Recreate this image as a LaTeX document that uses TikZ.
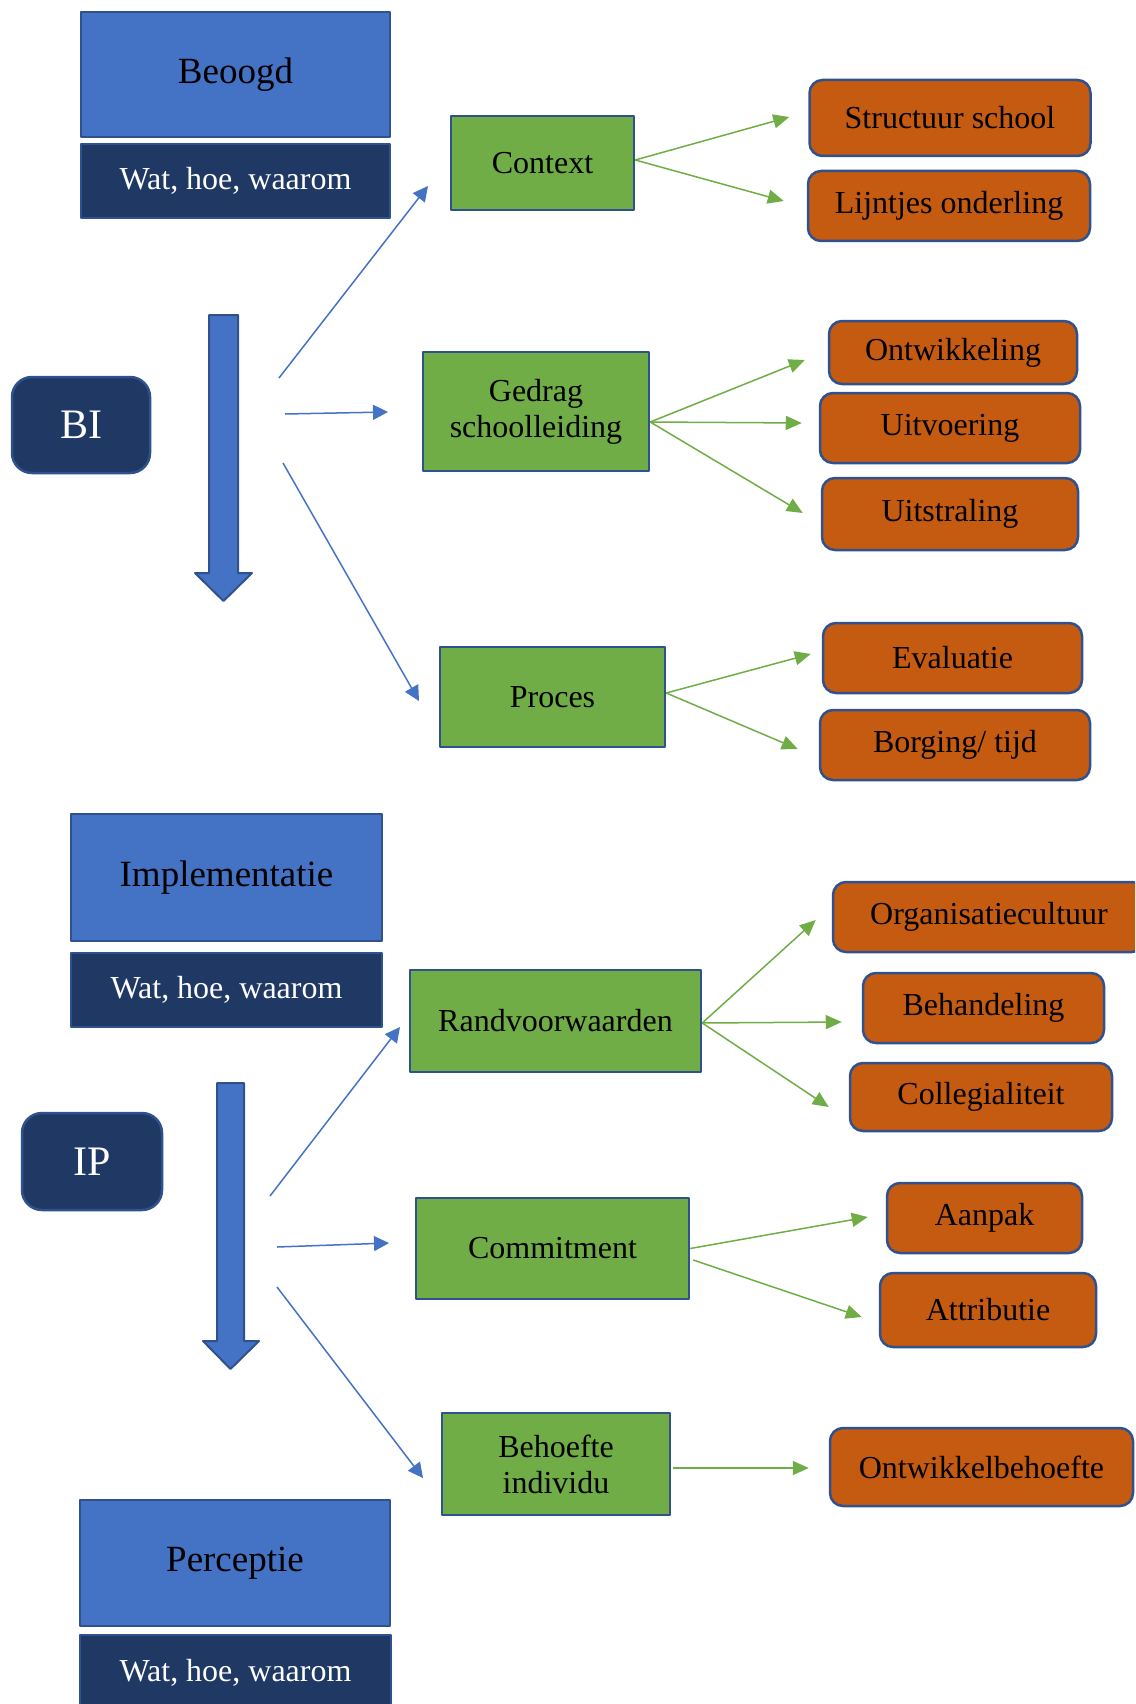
\documentclass[tikz,border=0pt]{standalone}
\usepackage{fontspec}
\setmainfont{Liberation Serif}
\usetikzlibrary{arrows.meta}
\definecolor{accblue}{HTML}{4472C4}
\definecolor{edgeblue}{HTML}{2F528F}
\definecolor{darknavy}{HTML}{203864}
\definecolor{accgreen}{HTML}{70AD47}
\definecolor{accorange}{HTML}{C55A11}
\begin{document}
\begin{tikzpicture}[x=1pt,y=-1pt,line join=round,
  box/.style={draw=edgeblue,line width=2.5pt,inner sep=0pt,align=center,font=\fontsize{32}{36}\selectfont},
  topbox/.style={box,fill=accblue,minimum width=309pt,minimum height=125pt,font=\fontsize{37}{40}\selectfont},
  whybox/.style={box,fill=darknavy,text=white,minimum width=309pt,minimum height=74pt},
  tagbox/.style={box,fill=darknavy,text=white,rounded corners=20pt,font=\fontsize{42}{46}\selectfont},
  aspect/.style={box,fill=accgreen},
  item/.style={box,fill=accorange,rounded corners=13pt},
  blink/.style={draw=accblue,line width=1.5pt,-{Triangle[length=15pt,width=15pt]}},
  glink/.style={draw=accgreen,line width=1.5pt,-{Triangle[length=16pt,width=14pt]}},
  bigarrow/.style={fill=accblue,draw=edgeblue,line width=2pt}]
  \useasboundingbox (0,0) rectangle (1135,1704);
  \clip (0,0) rectangle (1135,1704);

  % upper half: beoogd
  \node[topbox] (beoogd) at (235.5,74.5) {Beoogd};
  \node[whybox] (watA) at (235.5,181) {Wat, hoe, waarom};
  \node[tagbox,minimum width=138pt,minimum height=96pt] (bi) at (81,425) {BI};
  \draw[bigarrow] (209,315) -- (238,315) -- (238,573) -- (252,573) -- (223.5,601) -- (195,573) -- (209,573) -- cycle;

  \node[aspect,minimum width=183pt,minimum height=94pt] (ctx) at (542.5,163) {Context};
  \node[aspect,minimum width=226pt,minimum height=119pt] (ged) at (536,411.5) {Gedrag\\schoolleiding};
  \node[aspect,minimum width=225pt,minimum height=100pt] (proces) at (552.5,697) {Proces};

  \node[item,minimum width=281pt,minimum height=76pt] (structuur) at (950,118) {Structuur school};
  \node[item,minimum width=282pt,minimum height=70pt] (lijntjes) at (949,206) {Lijntjes onderling};
  \node[item,minimum width=248pt,minimum height=63pt] (ontw) at (953,352.5) {Ontwikkeling};
  \node[item,minimum width=260pt,minimum height=70pt] (uitv) at (950,428) {Uitvoering};
  \node[item,minimum width=256pt,minimum height=72pt] (uitstr) at (950,514) {Uitstraling};
  \node[item,minimum width=259pt,minimum height=70pt] (eval) at (952.5,658) {Evaluatie};
  \node[item,minimum width=270pt,minimum height=70pt] (borg) at (955,745) {Borging/ tijd};

  \coordinate (biA) at (279,378);
  \coordinate (biB) at (285,414);
  \coordinate (biC) at (283,463);
  \coordinate (ctxIn) at (428,186);
  \coordinate (gedIn) at (388,412);
  \coordinate (procIn) at (419,701);
  \draw[blink] (biA) -- (ctxIn);
  \draw[blink] (biB) -- (gedIn);
  \draw[blink] (biC) -- (procIn);

  \draw[glink] ([yshift=3pt]ctx.east) -- ([xshift=-19pt,yshift=1pt]structuur.west);
  \draw[glink] ([yshift=3pt]ctx.east) -- ([xshift=-23pt,yshift=5pt]lijntjes.west);
  \draw[glink] ([yshift=-10.5pt]ged.east) -- ([xshift=-23pt,yshift=-7.5pt]ontw.west);
  \draw[glink] ([yshift=-10.5pt]ged.east) -- ([xshift=-17pt,yshift=5pt]uitv.west);
  \draw[glink] ([yshift=-10.5pt]ged.east) -- ([xshift=-18pt,yshift=1pt]uitstr.west);
  \draw[glink] ([yshift=4pt]proces.east) -- ([xshift=-11pt,yshift=4pt]eval.west);
  \draw[glink] ([yshift=4pt]proces.east) -- ([xshift=-21pt,yshift=-4pt]borg.west);

  % lower half: implementatie
  \node[topbox,minimum width=311pt,minimum height=127pt] (impl) at (226.5,877.5) {Implementatie};
  \node[whybox,minimum width=311pt] (watB) at (226.5,990) {Wat, hoe, waarom};
  \node[tagbox,minimum width=140pt,minimum height=97pt] (ip) at (92,1161.5) {IP};
  \draw[bigarrow] (217,1083) -- (244,1083) -- (244,1341) -- (259,1341) -- (230.5,1369) -- (203,1341) -- (217,1341) -- cycle;

  \node[aspect,minimum width=291pt,minimum height=102pt] (rand) at (555.5,1021) {Randvoorwaarden};
  \node[aspect,minimum width=273pt,minimum height=101pt] (commit) at (552.5,1248.5) {Commitment};
  \node[aspect,minimum width=228pt,minimum height=102pt] (behoefte) at (556,1464) {Behoefte\\individu};

  \node[item,minimum width=312pt,minimum height=70pt] (org) at (989,917) {Organisatiecultuur};
  \node[item,minimum width=241pt,minimum height=70pt] (behand) at (983.5,1008) {Behandeling};
  \node[item,minimum width=262pt,minimum height=68pt] (coll) at (981,1097) {Collegialiteit};
  \node[item,minimum width=195pt,minimum height=70pt] (aanpak) at (984.5,1218) {Aanpak};
  \node[item,minimum width=216pt,minimum height=74pt] (attr) at (988,1310) {Attributie};
  \node[item,minimum width=303pt,minimum height=78pt] (ontwb) at (981.5,1467) {Ontwikkelbehoefte};

  \node[topbox,minimum width=310pt,minimum height=126pt] (perc) at (235,1563) {Perceptie};
  \node[whybox,minimum width=311pt,minimum height=75pt] (watC) at (235.5,1672.5) {Wat, hoe, waarom};

  \coordinate (ipA) at (270,1196);
  \coordinate (ipB) at (277,1247);
  \coordinate (ipC) at (277,1287);
  \coordinate (randIn) at (400,1027);
  \coordinate (commitIn) at (389,1243);
  \coordinate (behoefteIn) at (423,1478);
  \draw[blink] (ipA) -- (randIn);
  \draw[blink] (ipB) -- (commitIn);
  \draw[blink] (ipC) -- (behoefteIn);

  \draw[glink] ([yshift=-2pt]rand.east) -- ([xshift=-16pt,yshift=-3pt]org.west);
  \draw[glink] ([yshift=-2pt]rand.east) -- ([xshift=-20pt,yshift=-14pt]behand.west);
  \draw[glink] ([yshift=-2pt]rand.east) -- ([xshift=-20pt,yshift=-10pt]coll.west);
  \draw[glink] (commit.east) -- ([xshift=-18pt,yshift=1pt]aanpak.west);
  \draw[glink] ([xshift=3pt,yshift=-11.5pt]commit.east) -- ([xshift=-17pt,yshift=-7pt]attr.west);
  \draw[glink] ([xshift=2pt,yshift=-4pt]behoefte.east) -- ([xshift=-20pt,yshift=-1pt]ontwb.west);
\end{tikzpicture}
\end{document}
